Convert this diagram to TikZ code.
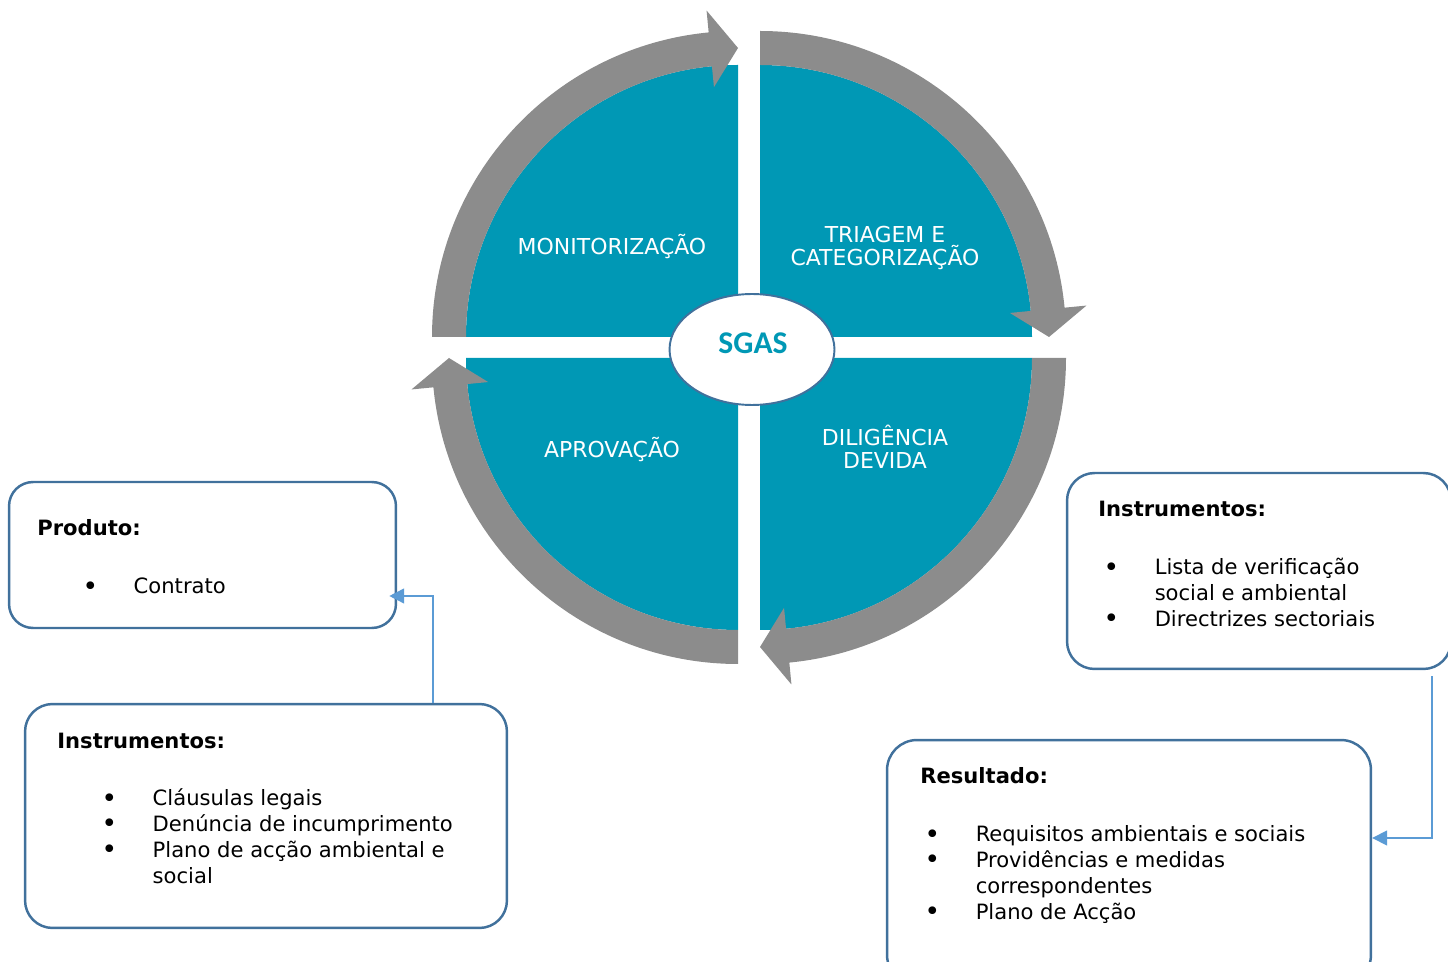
\documentclass[tikz,border=0pt]{standalone}
\usepackage{fontspec}
\setmainfont{DejaVu Sans}
\newfontfamily\carlito{Carlito}
\usepackage{tikz}
\usetikzlibrary{arrows.meta}
\usetikzlibrary{calc,shapes.geometric}

\definecolor{sgasteal}{RGB}{0,152,181}
\definecolor{ringgrey}{RGB}{140,140,140}
\definecolor{boxblue}{RGB}{65,113,156}
\definecolor{linkblue}{RGB}{91,155,213}

\tikzset{
	phase/.style={text=white, font=\fontsize{12.5}{13}\selectfont, align=center},
	infobox/.style={draw=boxblue, line width=1.4pt, fill=white, rounded corners=0.55cm, inner sep=0pt},
	heading/.style={font=\fontsize{12}{14.7}\selectfont\bfseries, anchor=base west, inner sep=0pt},
	items/.style={font=\fontsize{12}{14.7}\selectfont, anchor=base west, inner sep=0pt},
	link/.style={draw=linkblue, line width=0.85pt, -{Triangle[length=8.5pt,width=8.5pt]}}
}

% grey ring segment with its head: centre, start angle, tip angle
\newcommand{\ringarrow}[3]{%
	\fill[ringgrey] ($(#1)+({#2}:272)$) arc[start angle={#2}, end angle={#3+5.5}, radius=272]
	-- ($(#1)+({#3+5.5}:251)$) -- ($(#1)+({#3}:289)$) -- ($(#1)+({#3+5.5}:328)$)
	-- ($(#1)+({#3+5.5}:306)$) arc[start angle={#3+5.5}, end angle={#2}, radius=306] -- cycle;
}
\newcommand{\listdot}{\makebox[0pt]{\raisebox{-0.6pt}{\fontsize{15}{14.7}\selectfont\textbullet}}\hspace{24.7pt}}
\newcommand{\listgap}{\hspace{24.7pt}}

\begin{document}
\begin{tikzpicture}[x=0.02cm, y=0.02cm]
	\useasboundingbox (0,0) rectangle (1448,961);
	\clip (0,0) rectangle (1448,961);

	% the cycle
	\coordinate (qTL) at (738,624);
	\coordinate (qTR) at (760,624);
	\coordinate (qBR) at (760,603);
	\coordinate (qBL) at (738,603);
	\foreach \q/\a in {qTL/180, qTR/90, qBR/0, qBL/270} {
		\fill[sgasteal] (\q) -- ++(\a:272) arc[start angle=\a, end angle=\a-90, radius=272] -- cycle;
		\ringarrow{\q}{\a}{\a-90}
	}

	\node[phase] (mon) at (612,714) {MONITORIZAÇÃO};
	\node[phase] (tri) at (885,713) {TRIAGEM E\\CATEGORIZAÇÃO};
	\node[phase] (apr) at (612,511) {APROVAÇÃO};
	\node[phase] (dil) at (885,514.5) {DILIGÊNCIA\\DEVIDA};

	\node[ellipse, draw=boxblue, line width=1.1pt, fill=white, minimum width=3.3cm, minimum height=2.22cm] (hub) at (752,611.5) {};
	\node[text=sgasteal, font=\carlito\fontsize{18}{20}\selectfont\bfseries] (sgas) at (753,618) {SGAS};

	% boxes
	\node[infobox, rounded corners=0.48cm, minimum width=7.74cm, minimum height=2.92cm] (prod) at (202.5,406) {};
	\node[infobox, minimum width=9.64cm, minimum height=4.48cm] (instL) at (266,145) {};
	\node[infobox, minimum width=7.68cm, minimum height=3.92cm] (instR) at (1259,390) {};
	\node[infobox, rounded corners=0.6cm, minimum width=9.68cm, minimum height=4.9cm] (res) at (1129,98.5) {};

	\node[heading] (prodhead) at (37,425) {Produto:};
	\node[items] (prodlist) at (90,367) {\begin{tabular}[t]{@{}l@{}}
		\listdot Contrato
	\end{tabular}};

	\node[heading] (instLhead) at (57,212) {Instrumentos:};
	\node[items] (instLlist) at (109,155) {\begin{tabular}[t]{@{}l@{}}
		\listdot Cláusulas legais\\
		\listdot Denúncia de incumprimento\\
		\listdot Plano de acção ambiental e\\
		\listgap social
	\end{tabular}};

	\node[heading] (instRhead) at (1098,444) {Instrumentos:};
	\node[items] (instRlist) at (1111,386) {\begin{tabular}[t]{@{}l@{}}
		\listdot Lista de verificação\\
		\listgap social e ambiental\\
		\listdot Directrizes sectoriais
	\end{tabular}};

	\node[heading] (reshead) at (920,177) {Resultado:};
	\node[items] (reslist) at (932,119) {\begin{tabular}[t]{@{}l@{}}
		\listdot Requisitos ambientais e sociais\\
		\listdot Providências e medidas\\
		\listgap correspondentes\\
		\listdot Plano de Acção
	\end{tabular}};

	% connectors
	\coordinate (kneeL) at (433,365);
	\coordinate (kneeR) at (1432,123);
	\draw[link, shorten >=-4.5pt] (instL.north -| kneeL) |- (prod.east |- kneeL);
	\draw[link, shorten <=3.4pt] (instR.south -| kneeR) |- (res.east |- kneeR);
\end{tikzpicture}
\end{document}
